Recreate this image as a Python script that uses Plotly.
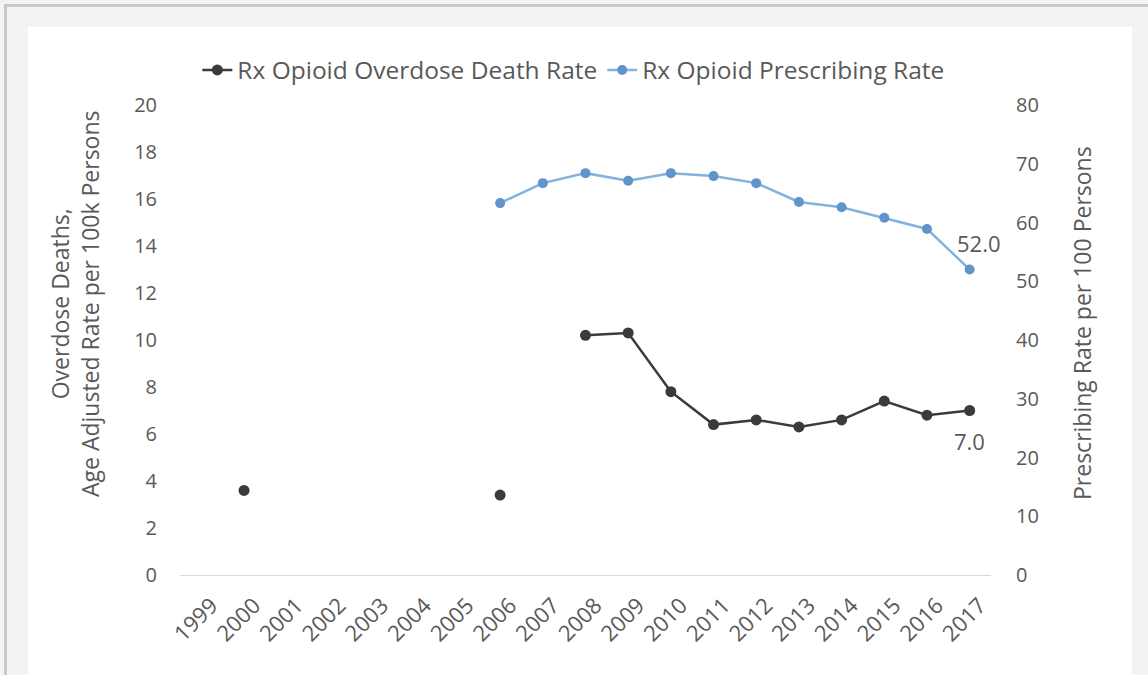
import plotly.graph_objects as go

years = [str(y) for y in range(1999, 2018)]
death_rate = [None, 3.6, None, None, None, None, None, 3.4, None, 10.2, 10.3,
              7.8, 6.4, 6.6, 6.3, 6.6, 7.4, 6.8, 7.0]
prescribing_rate = [None, None, None, None, None, None, None, 63.3, 66.7, 68.4, 67.1,
                    68.4, 67.9, 66.7, 63.5, 62.6, 60.8, 58.9, 52.0]

W, H = 1148, 675
L, R, T, B = 180, 157, 105, 100
PW, PH = W - L - R, H - T - B
def px(x):
    return (x - L) / PW
def py(y):
    return (H - B - y) / PH

FONT = "Open Sans"
TXT = "#595959"
BLACK = "#3b3b3b"
BLUE_LINE = "#82b2dd"
BLUE_MARK = "#5f95c9"

fig = go.Figure()
fig.add_trace(go.Scatter(
    x=years, y=death_rate, name="Rx Opioid Overdose Death Rate",
    mode="lines+markers", connectgaps=False,
    line=dict(color=BLACK, width=2.5),
    marker=dict(color=BLACK, size=11),
))
fig.add_trace(go.Scatter(
    x=years, y=prescribing_rate, name="Rx Opioid Prescribing Rate",
    mode="lines+markers", connectgaps=False, yaxis="y2",
    line=dict(color=BLUE_LINE, width=2.5),
    marker=dict(color=BLUE_MARK, size=10),
))

last = len(years) - 1
annotations = [
    dict(x=last, y=prescribing_rate[-1], xref="x", yref="y2",
         text=f"{prescribing_rate[-1]:.1f}", showarrow=False,
         xshift=9, yshift=27, font=dict(family=FONT, size=22, color=TXT)),
    dict(x=last, y=death_rate[-1], xref="x", yref="y",
         text=f"{death_rate[-1]:.1f}", showarrow=False,
         xshift=0, yshift=-30, font=dict(family=FONT, size=22, color=TXT)),
    dict(x=px(75), y=py(303), xref="paper", yref="paper",
         text="Overdose Deaths,<br>Age Adjusted Rate per 100k Persons",
         textangle=-90, showarrow=False, xanchor="center", yanchor="middle",
         font=dict(family=FONT, size=23, color=TXT)),
    dict(x=px(1082), y=py(323), xref="paper", yref="paper",
         text="Prescribing Rate per 100 Persons",
         textangle=-90, showarrow=False, xanchor="center", yanchor="middle",
         font=dict(family=FONT, size=23, color=TXT)),
]

shapes = [
    dict(type="rect", xref="paper", yref="paper", layer="below",
         x0=px(28), x1=px(1132), y0=py(27), y1=py(680),
         fillcolor="#ffffff", line=dict(width=0)),
    dict(type="rect", xref="paper", yref="paper", layer="below",
         x0=px(4), x1=px(1150), y0=py(4), y1=py(7),
         fillcolor="#c8c8c8", line=dict(width=0)),
    dict(type="rect", xref="paper", yref="paper", layer="below",
         x0=px(4), x1=px(7), y0=py(4), y1=py(680),
         fillcolor="#c8c8c8", line=dict(width=0)),
]

fig.update_layout(
    width=W, height=H,
    margin=dict(l=L, r=R, t=T, b=B),
    paper_bgcolor="#f3f3f3", plot_bgcolor="rgba(0,0,0,0)",
    font=dict(family=FONT, size=20, color=TXT),
    showlegend=True,
    legend=dict(orientation="h", x=0.485, xanchor="center", y=py(70), yanchor="middle",
                font=dict(family=FONT, size=24.5, color=TXT), itemwidth=30,
                bgcolor="rgba(0,0,0,0)", tracegroupgap=0),
    xaxis=dict(type="category", range=[-0.5, len(years) - 0.5], tickangle=-45,
               showgrid=False, showline=True,
               linecolor="#d9d9d9", linewidth=1, ticks="", zeroline=False,
               ticklabelstandoff=8, ticklabelshift=10,
               tickfont=dict(family=FONT, size=22, color=TXT)),
    yaxis=dict(range=[0, 20], dtick=2, showgrid=False, zeroline=False, ticks="",
               ticklabelstandoff=22, tickfont=dict(family=FONT, size=20, color=TXT)),
    yaxis2=dict(range=[0, 80], dtick=10, overlaying="y", side="right", showgrid=False,
                zeroline=False, ticks="", ticklabelstandoff=24,
                tickfont=dict(family=FONT, size=20, color=TXT)),
    annotations=annotations, shapes=shapes,
)

fig.write_html("out.html")
